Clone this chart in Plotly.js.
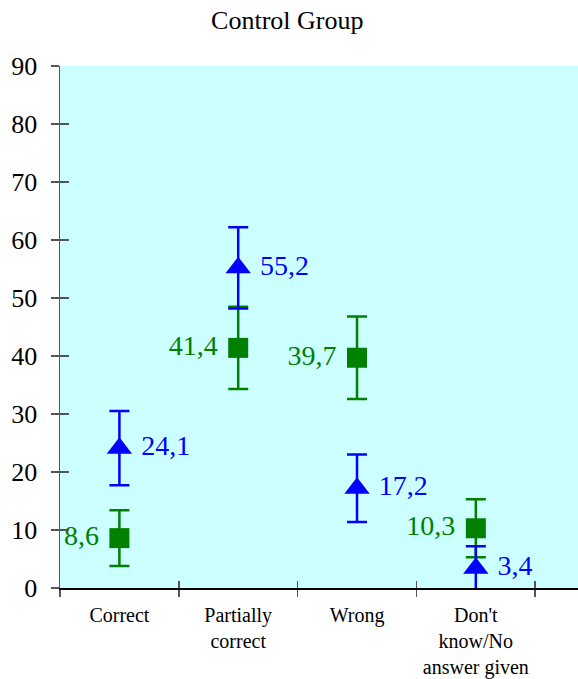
<!DOCTYPE html>
<html>
<head>
<meta charset="utf-8">
<script src="https://cdn.plot.ly/plotly-3.0.1.min.js"></script>
<style>html,body{margin:0;padding:0;background:#fff;}#chart{width:578px;height:679px;}</style>
</head>
<body>
<div id="chart"></div>
<script>
const categories = ["Correct", "Partially<br>correct", "Wrong", "Don't<br>know/No<br>answer given"];
const blueValues = [24.1, 55.2, 17.2, 3.4];
const blueErrors = [6.4, 7.0, 5.8, 3.8];
const greenValues = [8.6, 41.4, 39.7, 10.3];
const greenErrors = [4.8, 7.1, 7.1, 5.0];
const yTicks = [0, 10, 20, 30, 40, 50, 60, 70, 80, 90];

const fmt = v => String(v).replace('.', ',');
const serif = "Liberation Serif, Times New Roman, serif";

const traces = [
  {
    x: categories, y: greenValues, type: 'scatter', mode: 'markers+text',
    marker: {symbol: 'square', size: 20, color: '#008000'},
    error_y: {type: 'data', array: greenErrors, visible: true, color: '#008000', thickness: 2.5, width: 10},
    text: greenValues.map(v => fmt(v) + ' '), textposition: 'middle left',
    textfont: {family: serif, size: 28, color: '#008000'},
    cliponaxis: false, hoverinfo: 'skip'
  },
  {
    x: categories, y: blueValues, type: 'scatter', mode: 'markers+text',
    marker: {symbol: 'triangle-up', size: 22, color: '#0000FF'},
    error_y: {type: 'data', array: blueErrors, visible: true, color: '#0000FF', thickness: 2.5, width: 10},
    text: blueValues.map(v => ' ' + fmt(v)), textposition: 'middle right',
    textfont: {family: serif, size: 28, color: '#0000FF'},
    cliponaxis: false, hoverinfo: 'skip'
  }
];

const layout = {
  width: 578, height: 679,
  margin: {l: 60, r: 0, t: 66, b: 91},
  paper_bgcolor: '#ffffff',
  plot_bgcolor: '#CCFFFF',
  showlegend: false,
  font: {family: serif, color: '#000'},
  title: {text: 'Control Group', font: {family: serif, size: 26, color: '#000'}, x: 0.497, xref: 'container', xanchor: 'center', y: 0.97, yref: 'container', yanchor: 'middle'},
  xaxis: {
    type: 'category', range: [-0.5, 3.86], tickson: 'boundaries',
    ticks: 'outside', ticklen: 7, tickcolor: '#555', tickwidth: 1.5,
    showline: true, linecolor: '#000', linewidth: 1.5,
    showgrid: false, zeroline: false, ticklabelstandoff: 8,
    tickfont: {family: serif, size: 20, color: '#000'}
  },
  yaxis: {
    range: [0, 90], tickvals: yTicks, ticktext: yTicks.map(String),
    ticks: 'outside', ticklen: 8, tickcolor: '#555', tickwidth: 1.5,
    showline: true, linecolor: '#555', linewidth: 1.5,
    showgrid: false, zeroline: false, ticklabelstandoff: 8,
    tickfont: {family: serif, size: 26, color: '#000'}
  },
  yaxis2: {
    overlaying: 'y', range: [0, 90], tickvals: yTicks, showticklabels: false,
    ticks: 'inside', ticklen: 9, tickcolor: '#555', tickwidth: 1.5,
    showgrid: false, zeroline: false, showline: false
  },
  xaxis2: {
    overlaying: 'x', type: 'category', range: [-0.5, 3.86], tickson: 'boundaries',
    ticks: 'inside', ticklen: 7, tickcolor: '#555', tickwidth: 1.5, showticklabels: false,
    showgrid: false, zeroline: false, showline: false
  }
};

const dummy = {x: categories, y: [null, null, null, null], xaxis: 'x2', yaxis: 'y2', type: 'scatter', mode: 'markers', hoverinfo: 'skip', showlegend: false};

Plotly.newPlot('chart', [dummy].concat(traces), layout, {displayModeBar: false, staticPlot: true});
</script>
</body>
</html>
